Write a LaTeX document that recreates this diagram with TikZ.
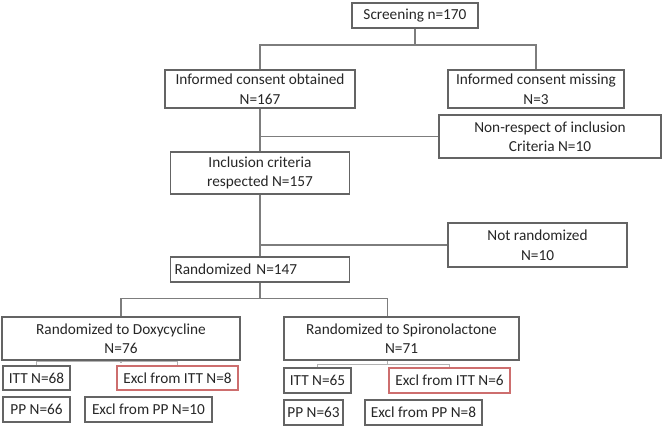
\documentclass[tikz,border=0pt]{standalone}
\usepackage{fontspec}
\setmainfont{Carlito}
\definecolor{boxgray}{RGB}{100,100,100}
\definecolor{linegray}{RGB}{125,125,125}
\definecolor{exred}{RGB}{205,110,110}

\begin{document}
\begin{tikzpicture}[x=1pt,y=-1pt,
    box/.style={draw=boxgray,line width=1.2pt,align=center,inner sep=2pt,
      font=\fontsize{15.3}{19.5}\selectfont,text=black!85},
    exbox/.style={box,draw=exred},
    link/.style={draw=linegray,line width=1.2pt},
    sublink/.style={draw=gray!60,line width=1.6pt}]
  \useasboundingbox (0,0) rectangle (663,430);
  \path (415,15.5) node[box,minimum width=126pt,minimum height=25pt] (scr) {Screening n=170}
        (260,89) node[box,minimum width=190pt,minimum height=38pt] (icok)
          {Informed consent obtained\\N=167}
        (536,89) node[box,minimum width=176pt,minimum height=38pt] (icmis)
          {Informed consent missing\\N=3}
        (550,136.5) node[box,minimum width=222pt,minimum height=43pt] (nonresp)
          {Non-respect of inclusion\\Criteria N=10}
        (260,173) node[box,minimum width=179pt,minimum height=42pt] (incl)
          {Inclusion criteria\\respected N=157}
        (537.5,245) node[box,minimum width=179pt,minimum height=44pt] (notrand)
          {Not randomized\\N=10}
        (260,269.5) node[box,minimum width=179pt,minimum height=25pt,
          text width=171pt,align=left] (rand) {Randomized N=147};
  \path (121,338.5) node[box,minimum width=238pt,minimum height=43pt] (dox)
          {Randomized to Doxycycline\\N=76}
        (401.5,338.5) node[box,minimum width=235pt,minimum height=43pt] (spi)
          {Randomized to Spironolactone\\N=71};
  \path (36.5,378) node[box,minimum width=67pt,minimum height=24pt] (itta) {ITT N=68}
        (177.5,378) node[exbox,minimum width=121pt,minimum height=24pt] (exitta) {Excl from ITT N=8}
        (36.5,409.5) node[box,minimum width=67pt,minimum height=25pt] (ppa) {PP N=66}
        (148.5,409.5) node[box,minimum width=127pt,minimum height=25pt] (exppa) {Excl from PP N=10}
        (317.5,380.5) node[box,minimum width=67pt,minimum height=25pt] (ittb) {ITT N=65}
        (449.5,380.5) node[exbox,minimum width=121pt,minimum height=25pt] (exittb) {Excl from ITT N=6}
        (313.5,412.5) node[box,minimum width=59pt,minimum height=25pt] (ppb) {PP N=63}
        (423.5,412.5) node[box,minimum width=117pt,minimum height=25pt] (exppb) {Excl from PP N=8};
  \draw[link] (scr.south) -- ++(0,16.5) coordinate (j1);
  \draw[link] (icok.north) |- (j1) -| (icmis.north);
  \draw[link] (icok.south) -- (incl.north);
  \draw[link] (icok.south |- nonresp.west) -- (nonresp.west);
  \draw[link] (incl.south) -- (rand.north);
  \draw[link] (rand.north |- notrand.west) -- (notrand.west);
  \draw[link] (rand.south) -- ++(0,16) coordinate (j2);
  \draw[link] (dox.north) |- (j2) -| ([xshift=-14pt]spi.north);
  \draw[sublink] (itta.north) -- ++(0,-4) -| (exitta.north);
  \draw[sublink] (dox.south) -- ++(0,2);
  \draw[sublink] (ittb.north) -- ++(0,-3) -| (exittb.north);
  \draw[sublink] ([xshift=-14pt]spi.south) -- ++(0,3);
\end{tikzpicture}
\end{document}
